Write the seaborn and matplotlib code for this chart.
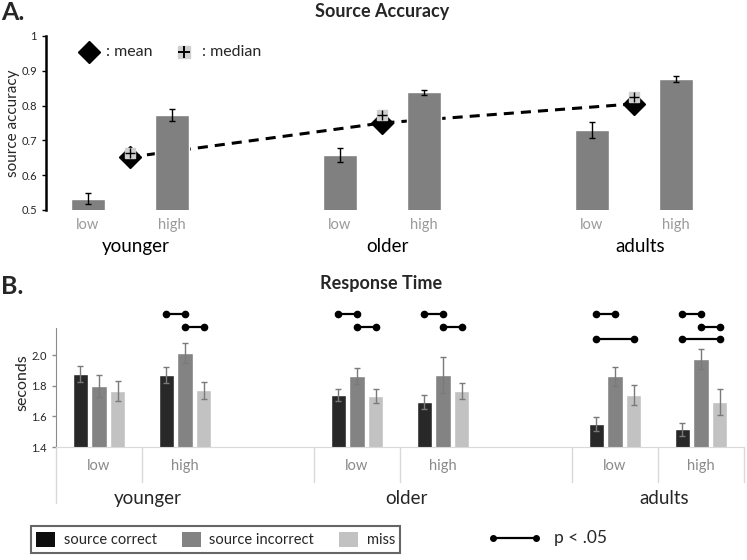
import numpy as np
import pandas as pd
import matplotlib
matplotlib.use('Agg')
import matplotlib.pyplot as plt
from matplotlib.lines import Line2D
from matplotlib.patches import Patch
import seaborn as sns

groups = ['younger', 'older', 'adults']
levels = ['low', 'high']

# A. source accuracy (low, high per group)
acc = [0.533, 0.773, 0.657, 0.838, 0.730, 0.877]
acc_err = [0.017, 0.017, 0.020, 0.008, 0.022, 0.008]
acc_mean = [0.652, 0.750, 0.805]
acc_median = [0.663, 0.773, 0.826]

# B. response time in seconds
conds = ['source correct', 'source incorrect', 'miss']
rt_correct = [1.878, 1.872, 1.743, 1.695, 1.550, 1.516]
rt_incorrect = [1.800, 2.018, 1.866, 1.872, 1.865, 1.977]
rt_miss = [1.769, 1.771, 1.736, 1.767, 1.741, 1.695]
err_correct = [0.050, 0.050, 0.040, 0.045, 0.045, 0.043]
err_incorrect = [0.075, 0.065, 0.055, 0.115, 0.062, 0.068]
err_miss = [0.065, 0.056, 0.047, 0.050, 0.065, 0.085]

# p < .05 pairs: (cell, cond a, cond b, row)
sig_pairs = [(1, 0, 1, 0), (1, 1, 2, 1),
             (2, 0, 1, 0), (2, 1, 2, 1),
             (3, 0, 1, 0), (3, 1, 2, 1),
             (4, 0, 1, 0), (4, 0, 2, 2),
             (5, 0, 1, 0), (5, 1, 2, 1), (5, 0, 2, 2)]
sig_y = [2.275, 2.187, 2.105]

cells = [g + ' ' + l for g in groups for l in levels]
order = cells[0:2] + ['gap1'] + cells[2:4] + ['gap2'] + cells[4:6]
colors = ['#282828', '#838383', '#c2c2c2']

sns.set_style('white')
plt.rcParams['font.family'] = ['Lato', 'DejaVu Sans']

W, H = 747, 560
fig = plt.figure(figsize=(W / 100, H / 100), dpi=100)

def box(x0, x1, ytop, ybot):
    return [x0 / W, 1 - ybot / H, (x1 - x0) / W, (ybot - ytop) / H]

# ---------------- A ----------------
axA = fig.add_axes(box(46, 718, 36, 210))
dfA = pd.DataFrame({'cell': cells, 'acc': acc})
sns.barplot(data=dfA, x='cell', y='acc', order=order, color='#808080',
            width=0.4, errorbar=None, saturation=1, ax=axA)
pos = [order.index(c) for c in cells]
axA.errorbar(pos, acc, yerr=acc_err, fmt='none', ecolor='black',
             elinewidth=1, capsize=2.5, capthick=1, zorder=3)
mid = [(pos[2 * i] + pos[2 * i + 1]) / 2 for i in range(3)]
axA.plot(mid, acc_mean, color='black', lw=2.2, ls=(0, (3.3, 2.3)), zorder=0.5)
axA.plot(mid, acc_mean, 'D', color='black', ms=11.5, zorder=4, ls='none')
axA.plot(mid, acc_median, 's', color='#cfcfcf', ms=7, zorder=5, ls='none')
axA.plot(mid, acc_median, '+', color='black', ms=7, mew=1, zorder=6, ls='none')

axA.set_xlim(-0.5, 7.5)
axA.set_ylim(0.5, 1.0)
axA.set_yticks([0.5, 0.6, 0.7, 0.8, 0.9, 1.0])
axA.set_yticklabels(['0.5', '0.6', '0.7', '0.8', '0.9', '1'])
axA.tick_params(axis='y', length=3, width=1, labelsize=8, direction='out', left=True, color='black')
axA.set_xticks([])
axA.set_xlabel('')
axA.set_ylabel('source accuracy', fontsize=11)
axA.yaxis.set_label_coords(-0.038, 0.5)
for s in ['top', 'right', 'bottom']:
    axA.spines[s].set_visible(False)
axA.spines['left'].set_color('black')
axA.spines['left'].set_linewidth(1.8)

for i, c in enumerate(cells):
    axA.text(pos[i], -0.086, c.split()[1], transform=axA.get_xaxis_transform(),
             ha='center', va='center', fontsize=10.5, color='#9a9a9a')
for i, g in enumerate(groups):
    axA.text(mid[i] + 0.07, -0.207, g, transform=axA.get_xaxis_transform(),
             ha='center', va='center', fontsize=13.5, color='black')

# legend inside A
axA.plot([0.012], [0.954], 'D', color='black', ms=11.5, clip_on=False)
axA.text(0.214, 0.954, ': mean', fontsize=11.5, va='center', ha='left')
axA.plot([1.143], [0.954], 's', color='#cfcfcf', ms=8, clip_on=False)
axA.plot([1.143], [0.954], '+', color='black', ms=9, mew=1.4, clip_on=False)
axA.text(1.357, 0.954, ': median', fontsize=11.5, va='center', ha='left')

# ---------------- B ----------------
axB = fig.add_axes(box(56, 744, 447 - 0.96 * 152.5, 447))
dfB = pd.DataFrame({'cell': cells * 3,
                    'cond': np.repeat(conds, len(cells)),
                    'rt': rt_correct + rt_incorrect + rt_miss})
sns.barplot(data=dfB, x='cell', y='rt', hue='cond', order=order, hue_order=conds,
            palette=colors, width=0.66, gap=0.2, errorbar=None, saturation=1,
            legend=False, ax=axB)
vals = [rt_correct, rt_incorrect, rt_miss]
errs = [err_correct, err_incorrect, err_miss]
bar_conts = list(axB.containers)
centers = []
for k, cont in enumerate(bar_conts):
    xs = [p.get_x() + p.get_width() / 2 for p in cont.patches]
    centers.append(xs)
    axB.errorbar(xs, vals[k], yerr=errs[k], fmt='none', ecolor='#7a7a7a',
                 elinewidth=1, capsize=2.5, capthick=1, zorder=3)
for cell, a, b, row in sig_pairs:
    axB.plot([centers[a][cell], centers[b][cell]], [sig_y[row]] * 2, color='black',
             lw=1.6, marker='o', ms=4.5, clip_on=False, zorder=4)

axB.set_xlim(-0.5, 7.5)
axB.set_ylim(1.4, 2.36)
axB.set_yticks([1.4, 1.6, 1.8, 2.0])
axB.set_yticklabels(['1.4', '1.6', '1.8', '2.0'])
axB.tick_params(axis='y', length=3, width=1, labelsize=8, direction='out', left=True, color='#8c8c8c')
axB.set_xticks([])
axB.set_xlabel('')
axB.set_ylabel('seconds', fontsize=11.5)
axB.yaxis.set_label_coords(-0.038, 0.44)
for s in ['top', 'right']:
    axB.spines[s].set_visible(False)
axB.spines['left'].set_color('#8c8c8c')
axB.spines['left'].set_bounds(1.4, 2.18)
axB.spines['bottom'].set_color('#d9d9d9')

xt = axB.get_xaxis_transform()
for x in [0.5, 2.5, 3.5, 5.5, 6.5, 7.5]:
    axB.plot([x, x], [0, -0.239], color='#d9d9d9', lw=1, transform=xt, clip_on=False)
axB.plot([-0.5, -0.5], [0, -0.383], color='#d9d9d9', lw=1, transform=xt, clip_on=False)
posB = [order.index(c) for c in cells]
for i, c in enumerate(cells):
    axB.text(posB[i], -0.13, c.split()[1], transform=xt, ha='center', va='center',
             fontsize=10.5, color='#8a8a8a')
for i, g in enumerate(groups):
    xm = (posB[2 * i] + posB[2 * i + 1]) / 2
    axB.text(xm + 0.07, -0.355, g, transform=xt, ha='center', va='center', fontsize=13.5)

# titles and panel letters
fig.text(382 / W, 1 - 11 / H, 'Source Accuracy', ha='center', va='center', fontsize=13, fontweight='bold')
fig.text(381 / W, 1 - 284 / H, 'Response Time', ha='center', va='center', fontsize=13, fontweight='bold')
fig.text(1 / W, 1 - 13 / H, 'A.', ha='left', va='center', fontsize=18, fontweight='bold')
fig.text(1 / W, 1 - 286 / H, 'B.', ha='left', va='center', fontsize=18, fontweight='bold')

# bottom legends
handles = [Patch(facecolor=c, edgecolor='none') for c in colors]
handles[0] = Patch(facecolor='#0d0d0d', edgecolor='none')
leg = fig.legend(handles, conds, loc='center', bbox_to_anchor=(215.5 / W, 1 - 539.5 / H),
                 ncol=3, frameon=True, fancybox=False, edgecolor='#404040', fontsize=10.5,
                 handlelength=1.3, handleheight=1.3, columnspacing=1.7, handletextpad=0.6,
                 borderpad=0.35, borderaxespad=0.3)
leg.get_frame().set_linewidth(1.5)
fig.add_artist(Line2D([493 / W, 536 / W], [1 - 538 / H] * 2, color='black', lw=1.6,
                      marker='o', ms=4))
fig.text(554 / W, 1 - 538 / H, 'p < .05', ha='left', va='center', fontsize=12.5)

fig.savefig('out.png', dpi=100)
